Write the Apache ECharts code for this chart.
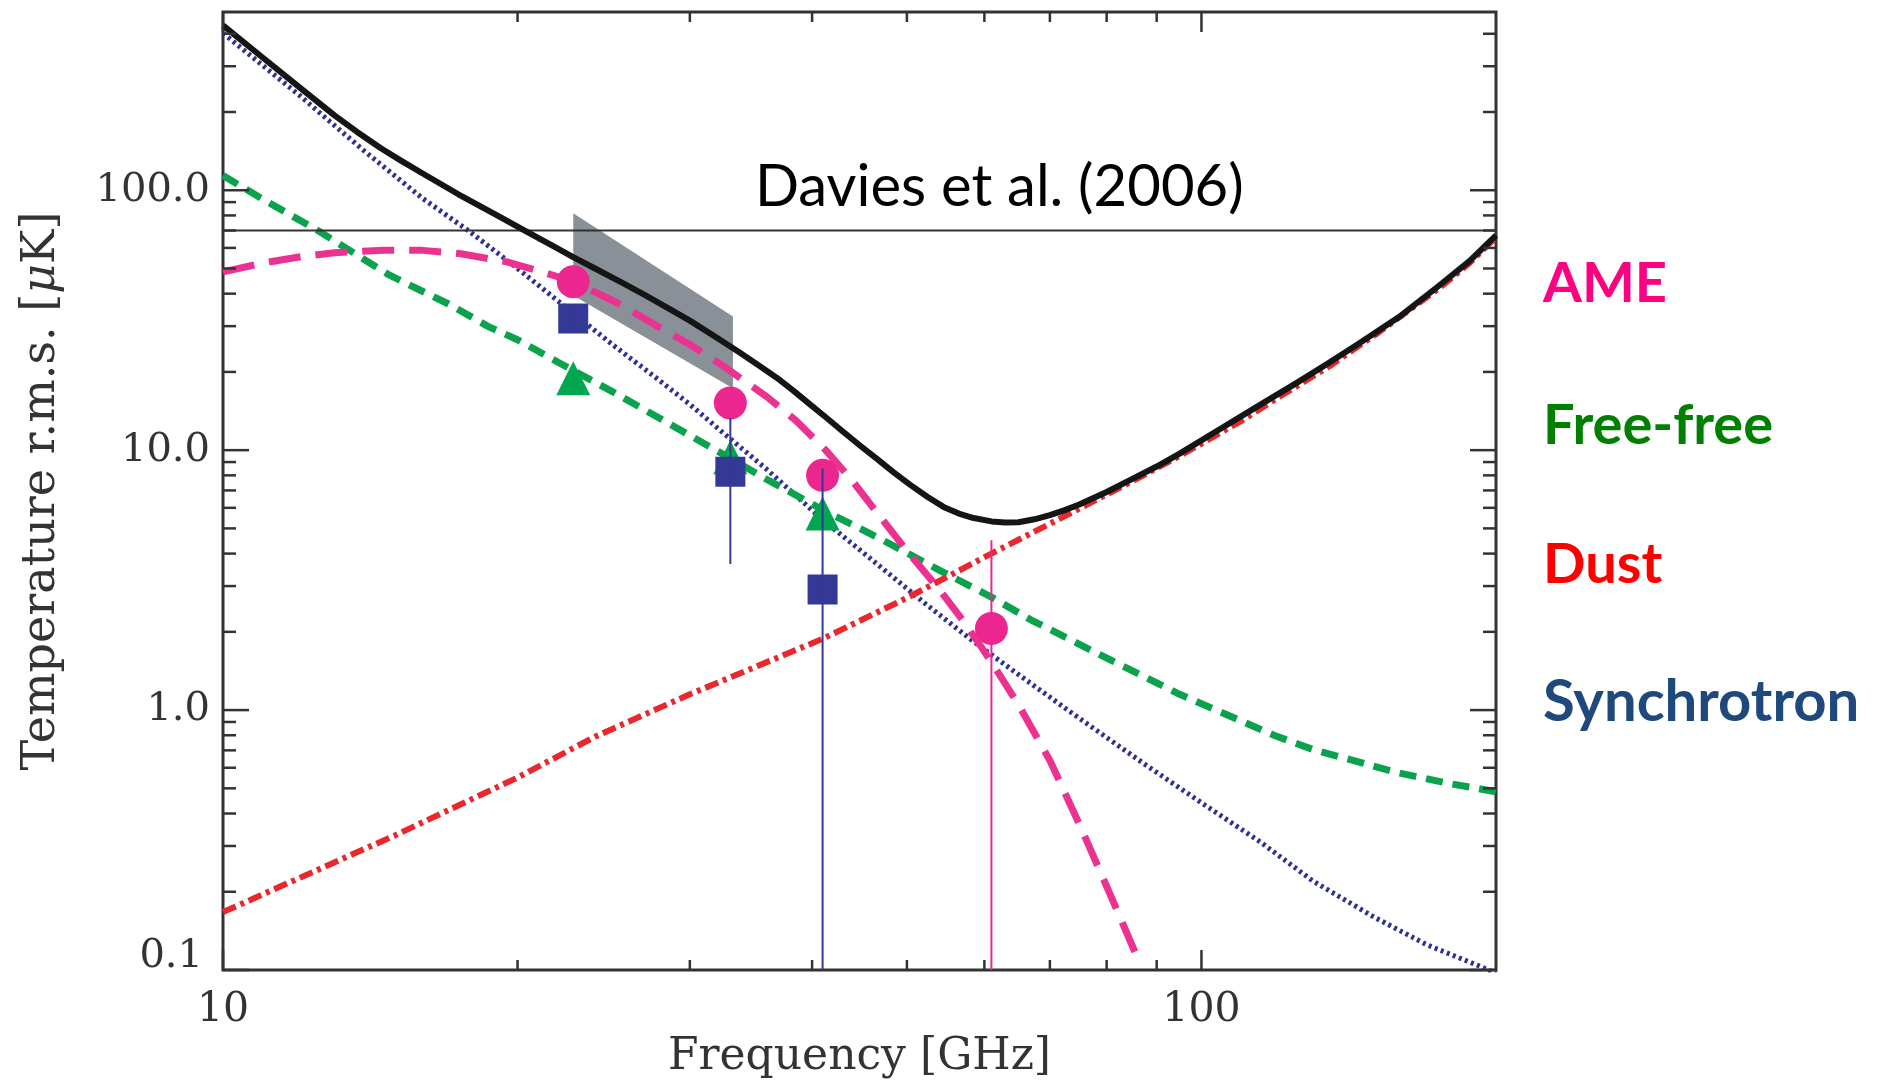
<!DOCTYPE html>
<html>
<head>
<meta charset="utf-8">
<script src="https://cdn.jsdelivr.net/npm/echarts@6/dist/echarts.min.js"></script>
<style>
html,body{margin:0;padding:0;background:#fff;}
#c{width:1889px;height:1085px;}
</style>
</head>
<body>
<div id="c"></div>
<script>
// ---------------- data ----------------
// Total – black solid
const totalFreq = [10, 11, 12, 13, 13.7, 14.5, 15.2, 16, 17.4, 19, 20.3, 21.5, 22.8, 24, 25.6, 27, 28.5, 30, 32, 33.7, 35.2, 36.8, 38.3, 39.8, 41.4, 43, 44.8, 46.6, 48.5, 50.4, 52.5, 54.5, 56.5, 58.5, 61, 63, 65, 67.5, 70, 72.5, 75, 80, 85, 90, 95, 105, 115, 125, 135, 145, 160, 175, 188, 200];
const totalVal  = [431, 322, 247, 194, 168, 145, 130, 116, 96.5, 80.5, 70.2, 62.5, 55.3, 50, 44, 39.5, 35.2, 31.5, 27, 23.8, 21.3, 19.0, 16.9, 15.0, 13.3, 11.8, 10.4, 9.25, 8.2, 7.35, 6.6, 6.05, 5.7, 5.48, 5.32, 5.27, 5.28, 5.42, 5.62, 5.88, 6.18, 6.9, 7.75, 8.65, 9.7, 12.2, 15.0, 18.1, 21.7, 25.8, 33, 43, 53.5, 67];

// AME – pink long dashes
const ameFreq = [10, 11, 12, 13, 14.6, 16, 17.5, 19.5, 21, 22.8, 24.7, 25.6, 28, 30, 32.5, 36, 38.5, 41.3, 44, 47.3, 50, 54, 57, 60, 62, 65, 70, 75, 80, 86.6];
const ameVal  = [48.5, 52.5, 55.5, 57.5, 58.8, 58.7, 57, 53, 49, 44.5, 38.5, 36, 29.5, 25.5, 21, 16, 13, 10, 7.6, 5.35, 4.1, 2.9, 2.22, 1.68, 1.39, 1.05, 0.64, 0.365, 0.21, 0.105];

// Free-free – green dashes
const ffFreq = [10, 11, 12.5, 14.8, 17, 18.7, 20, 22, 25, 28, 32.5, 36, 41, 47, 54, 61, 67, 77.6, 95, 118.6, 130, 158.5, 180, 200];
const ffVal  = [114, 92, 70, 47.1, 36.5, 29.8, 26.6, 21.8, 16.8, 13.2, 9.6, 7.7, 5.9, 4.55, 3.45, 2.72, 2.22, 1.68, 1.15, 0.8, 0.705, 0.575, 0.52, 0.485];

// Synchrotron – blue dotted
const syncFreq = [10, 12, 13.9, 16, 17.9, 20, 21.9, 25, 27.7, 30, 32.5, 36, 41, 46, 52, 58, 64, 75, 88, 100, 115, 130, 150, 170, 193, 200];
const syncVal  = [402, 230, 143, 93, 69, 50, 38, 25.5, 19, 15.0, 11.6, 8.4, 5.4, 3.8, 2.6, 1.88, 1.43, 0.93, 0.61, 0.44, 0.31, 0.22, 0.16, 0.125, 0.103, 0.097];

// Dust – red dash-dot
const dustFreq = [10, 15, 20, 24, 30, 41, 50, 61, 72, 85, 95, 110, 120, 135, 152, 175, 188, 200];
const dustVal  = [0.167, 0.33, 0.55, 0.79, 1.15, 1.88, 2.7, 4.0, 5.5, 7.6, 9.5, 13, 16, 21, 28.5, 42, 52.5, 66];

// Davies et al. (2006) level
const daviesFreq = [10, 200];
const daviesVal  = [70, 70];

// Grey band
const bandFreq = [22.8, 33.2];
const bandLow  = [39.4, 17.3];
const bandHigh = [81.5, 32.7];

// Measured points
const ameObsFreq  = [22.8, 33, 41, 61];
const ameObsVal   = [44.5, 15.2, 8.0, 2.06];
const syncObsFreq = [22.8, 33, 41];
const syncObsVal  = [32.1, 8.26, 2.91];
const ffObsFreq   = [22.8, 33, 41];
const ffObsVal    = [18.9, 9.4, 5.7];

// Error bars
const syncErrFreq = [22.8, 33, 41];
const syncErrLo   = [29.5, 3.65, 0.01];
const syncErrHi   = [34.5, 13.3, 8.5];
const ameErrFreq  = [61];
const ameErrLo    = [0.01];
const ameErrHi    = [4.5];

// Axes
const xTickValues = [10, 100];
const xTickLabels = ['10', '100'];
const xMinorTicks = [20, 30, 40, 50, 60, 70, 80, 90];
const yTickValues = [0.1, 1, 10, 100];
const yTickLabels = ['0.1', '1.0', '10.0', '100.0'];
const yMinorTicks = [0.2,0.3,0.4,0.5,0.6,0.7,0.8,0.9, 2,3,4,5,6,7,8,9, 20,30,40,50,60,70,80,90, 200,300,400];

// ---------------- chart ----------------
const zip = (a, b) => a.map((v, i) => [v, b[i]]);
const AXC = '#333';
const SERIF = 'DejaVu Serif';

function fmtX(v) {
  const i = xTickValues.findIndex(t => Math.abs(t - v) / t < 1e-6);
  return i >= 0 ? xTickLabels[i] : '';
}
function fmtY(v) {
  const i = yTickValues.findIndex(t => Math.abs(t - v) / t < 1e-6);
  if (i < 0) return '';
  if (i === 0) return '{lo|' + yTickLabels[i] + '}';
  return yTickLabels[i];
}

const chart = echarts.init(document.getElementById('c'));

const tickStyle = { stroke: AXC, lineWidth: 2.5 };
const lineCommon = { showSymbol: false, smooth: false, sampling: null };

const option = {
  animation: false,
  backgroundColor: '#fff',
  grid: { left: 223, right: 393, top: 12, bottom: 115, show: true, borderColor: AXC, borderWidth: 3, backgroundColor: 'transparent' },
  xAxis: {
    type: 'log', logBase: 10, min: 10, max: 200, interval: 1,
    axisLine: { show: false }, axisTick: { show: false }, splitLine: { show: false }, minorTick: { show: false },
    axisLabel: { formatter: fmtX, fontFamily: SERIF, fontSize: 41, color: AXC, margin: 20 },
    name: 'Frequency [GHz]', nameLocation: 'middle', nameGap: 64,
    nameTextStyle: { fontFamily: SERIF, fontSize: 44, color: AXC }
  },
  yAxis: {
    type: 'log', logBase: 10, min: 0.1, max: 485, interval: 1,
    axisLine: { show: false }, axisTick: { show: false }, splitLine: { show: false }, minorTick: { show: false },
    axisLabel: {
      formatter: fmtY, fontFamily: SERIF, fontSize: 40, color: AXC, margin: 13,
      rich: { lo: { fontFamily: SERIF, fontSize: 40, color: AXC, padding: [0, 7, 26, 0] } }
    },
    name: 'Temperature r.m.s. [{i|μ}K]', nameLocation: 'middle', nameGap: 158,
    nameTextStyle: { fontFamily: SERIF, fontSize: 46, color: AXC,
      rich: { i: { fontFamily: SERIF, fontStyle: 'italic', fontSize: 46, color: AXC } } }
  },
  graphic: [
    { type: 'text', x: 755, y: 187, z: 100,
      style: { text: 'Davies et al. (2006)', font: '58px Lato', fill: '#000', align: 'left', verticalAlign: 'middle', textAlign: 'left', textVerticalAlign: 'middle' } },
    { type: 'text', x: 1543, y: 284, z: 100,
      style: { text: 'AME', font: 'bold 56px Lato', fill: '#FF0080', align: 'left', verticalAlign: 'middle', textAlign: 'left', textVerticalAlign: 'middle' } },
    { type: 'text', x: 1543, y: 426, z: 100,
      style: { text: 'Free-free', font: 'bold 56px Lato', fill: '#008000', align: 'left', verticalAlign: 'middle', textAlign: 'left', textVerticalAlign: 'middle' } },
    { type: 'text', x: 1543, y: 565, z: 100,
      style: { text: 'Dust', font: 'bold 56px Lato', fill: '#FF0000', align: 'left', verticalAlign: 'middle', textAlign: 'left', textVerticalAlign: 'middle' } },
    { type: 'text', x: 1543, y: 702, z: 100,
      style: { text: 'Synchrotron', font: 'bold 58px Lato', fill: '#1F497D', align: 'left', verticalAlign: 'middle', textAlign: 'left', textVerticalAlign: 'middle' } }
  ],
  series: [
    { // grey band
      type: 'custom', z: 1, silent: true,
      data: bandFreq.map((f, i) => [f, bandLow[i], bandHigh[i]]),
      encode: { x: 0, y: [1, 2] },
      renderItem: function (params, api) {
        if (params.dataIndex !== 0) return { type: 'group', children: [] };
        const pts = [];
        for (let i = 0; i < bandFreq.length; i++) pts.push(api.coord([bandFreq[i], bandHigh[i]]));
        for (let i = bandFreq.length - 1; i >= 0; i--) pts.push(api.coord([bandFreq[i], bandLow[i]]));
        return { type: 'polygon', shape: { points: pts }, style: { fill: '#8a9097' } };
      }
    },
    Object.assign({ name: 'Synchrotron', type: 'line', z: 2, data: zip(syncFreq, syncVal),
      lineStyle: { color: '#2e3192', width: 5, type: [3, 3.5], cap: 'butt', join: 'round' } }, lineCommon),
    Object.assign({ name: 'Free-free', type: 'line', z: 2, data: zip(ffFreq, ffVal),
      lineStyle: { color: '#0aa24c', width: 7, type: [17, 10], cap: 'butt', join: 'round' } }, lineCommon),
    Object.assign({ name: 'Dust', type: 'line', z: 2, data: zip(dustFreq, dustVal),
      lineStyle: { color: '#e8282c', width: 6, type: [14, 5, 4, 5], cap: 'butt', join: 'round' } }, lineCommon),
    Object.assign({ name: 'AME', type: 'line', z: 3, data: zip(ameFreq, ameVal),
      lineStyle: { color: '#eb3290', width: 7, type: [32, 15], cap: 'butt', join: 'round' } }, lineCommon),
    Object.assign({ name: 'Davies', type: 'line', z: 3, data: zip(daviesFreq, daviesVal),
      lineStyle: { color: '#333', width: 2 } }, lineCommon),
    Object.assign({ name: 'Total', type: 'line', z: 4, data: zip(totalFreq, totalVal),
      lineStyle: { color: '#151515', width: 6, join: 'round' } }, lineCommon),
    { name: 'FF obs', type: 'scatter', z: 5, data: zip(ffObsFreq, ffObsVal), symbol: 'triangle', symbolSize: 34,
      itemStyle: { color: '#00a650', opacity: 1 } },
    { name: 'Sync obs', type: 'scatter', z: 6, data: zip(syncObsFreq, syncObsVal), symbol: 'rect', symbolSize: 30,
      itemStyle: { color: '#333994', opacity: 1 } },
    { name: 'AME obs', type: 'scatter', z: 7, data: zip(ameObsFreq, ameObsVal), symbol: 'circle', symbolSize: 33,
      itemStyle: { color: '#ec268f', opacity: 1 } },
    { // blue error bars
      type: 'custom', z: 8, silent: true,
      data: syncErrFreq.map((f, i) => [f, syncErrLo[i], syncErrHi[i]]),
      encode: { x: 0, y: [1, 2] },
      renderItem: function (params, api) {
        const cs = params.coordSys;
        const t = api.coord([api.value(0), api.value(2)]);
        const b = api.coord([api.value(0), api.value(1)]);
        return { type: 'line', shape: { x1: t[0], y1: t[1], x2: t[0], y2: Math.min(b[1], cs.y + cs.height) },
          style: { stroke: '#333994', lineWidth: 2 } };
      }
    },
    { // pink error bars
      type: 'custom', z: 8, silent: true,
      data: ameErrFreq.map((f, i) => [f, ameErrLo[i], ameErrHi[i]]),
      encode: { x: 0, y: [1, 2] },
      renderItem: function (params, api) {
        const cs = params.coordSys;
        const t = api.coord([api.value(0), api.value(2)]);
        const b = api.coord([api.value(0), api.value(1)]);
        return { type: 'line', shape: { x1: t[0], y1: t[1], x2: t[0], y2: Math.min(b[1], cs.y + cs.height) },
          style: { stroke: '#ec268f', lineWidth: 2 } };
      }
    },
    { // y ticks (left & right)
      type: 'custom', z: 9, silent: true,
      data: yTickValues.map(v => [10, v, 26]).concat(yMinorTicks.map(v => [10, v, 13])),
      encode: { x: 0, y: 1 },
      renderItem: function (params, api) {
        const cs = params.coordSys;
        const p = api.coord([api.value(0), api.value(1)]);
        const len = api.value(2);
        return { type: 'group', children: [
          { type: 'line', shape: { x1: cs.x, y1: p[1], x2: cs.x + len, y2: p[1] }, style: tickStyle },
          { type: 'line', shape: { x1: cs.x + cs.width - len, y1: p[1], x2: cs.x + cs.width, y2: p[1] }, style: tickStyle }
        ] };
      }
    },
    { // x ticks (bottom & top)
      type: 'custom', z: 9, silent: true,
      data: xTickValues.map(v => [v, 0.1, 20]).concat(xMinorTicks.map(v => [v, 0.1, 10])),
      encode: { x: 0, y: 1 },
      renderItem: function (params, api) {
        const cs = params.coordSys;
        const p = api.coord([api.value(0), api.value(1)]);
        const len = api.value(2);
        return { type: 'group', children: [
          { type: 'line', shape: { x1: p[0], y1: cs.y + cs.height, x2: p[0], y2: cs.y + cs.height - len }, style: tickStyle },
          { type: 'line', shape: { x1: p[0], y1: cs.y, x2: p[0], y2: cs.y + len }, style: tickStyle }
        ] };
      }
    }
  ]
};

chart.setOption(option);
</script>
</body>
</html>
